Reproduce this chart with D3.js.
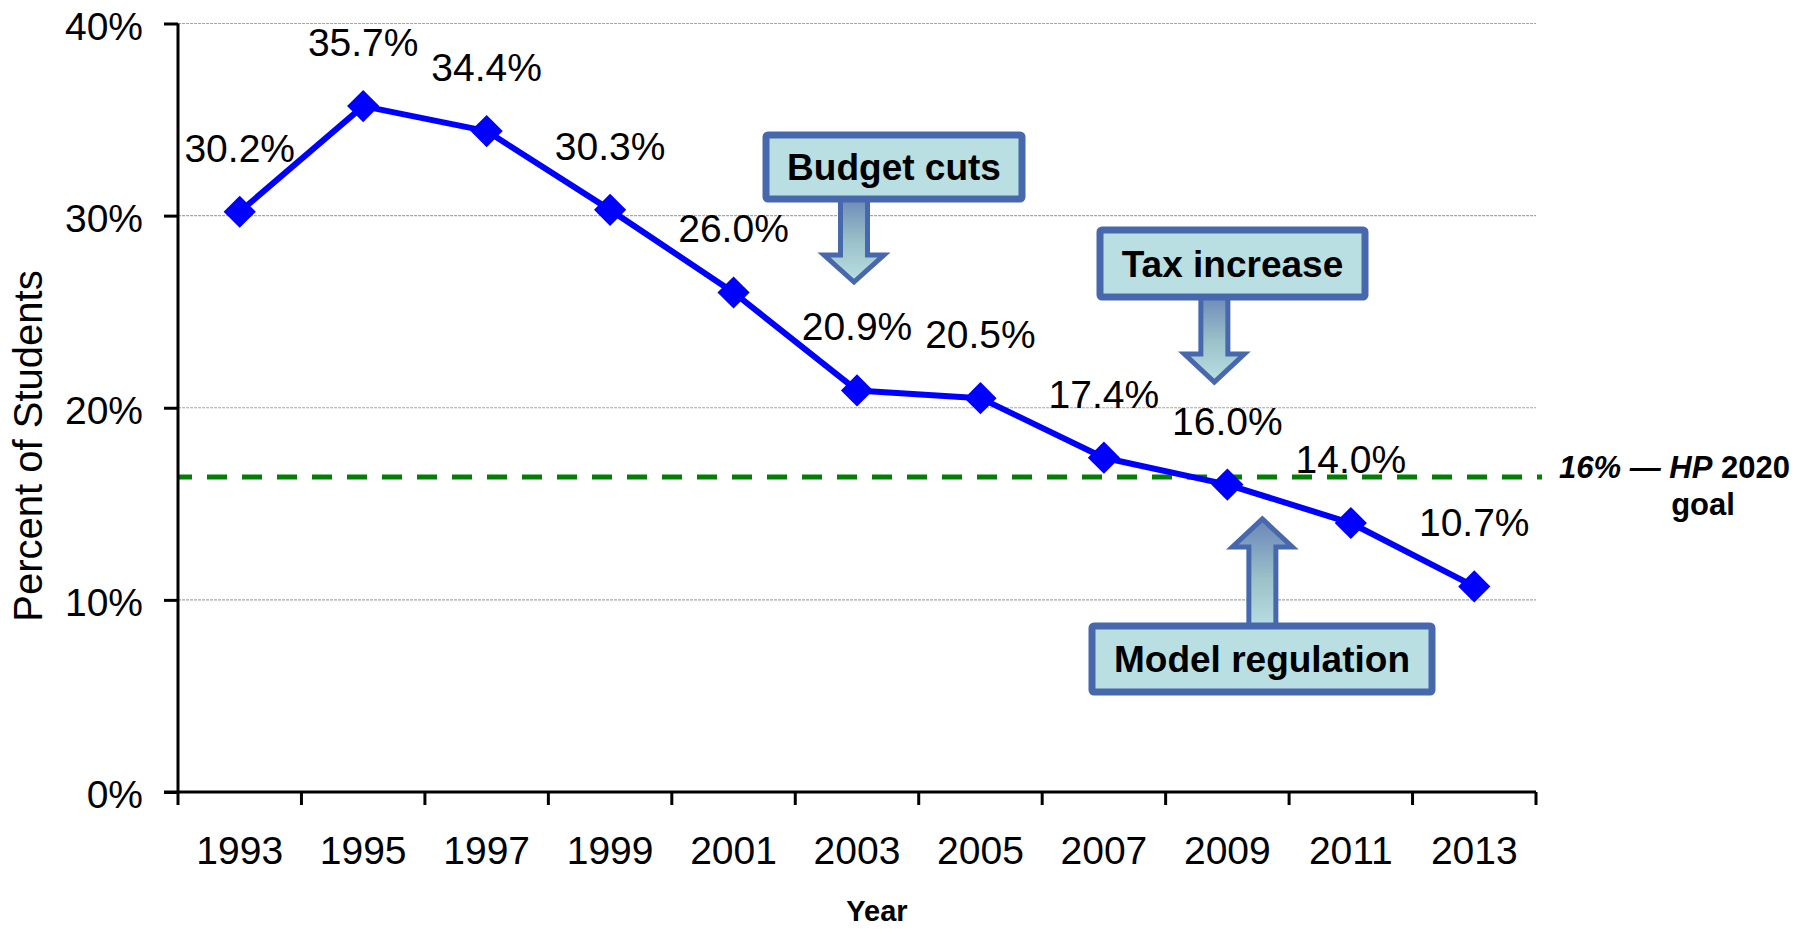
<!DOCTYPE html>
<html>
<head>
<meta charset="utf-8">
<script src="https://cdn.jsdelivr.net/npm/d3@7"></script>
<style>
  html, body { margin: 0; padding: 0; background: #fff; }
  svg { display: block; font-family: "Liberation Sans", Arial, sans-serif; }
</style>
</head>
<body>
<svg id="chart" width="1806" height="929"></svg>
<script>
// ---- Data ----
const years = ["1993","1995","1997","1999","2001","2003","2005","2007","2009","2011","2013"];
const values = [30.2, 35.7, 34.4, 30.3, 26.0, 20.9, 20.5, 17.4, 16.0, 14.0, 10.7];
const valueLabels = ["30.2%","35.7%","34.4%","30.3%","26.0%","20.9%","20.5%","17.4%","16.0%","14.0%","10.7%"];
const yTicks = [0, 10, 20, 30, 40];
const yTickLabels = ["0%","10%","20%","30%","40%"];
const goalValue = 16.4;
const calloutTexts = ["Budget cuts", "Tax increase", "Model regulation"];
const calloutYears = ["2003", "2009", "2009"];

(function () {
// ---- Layout ----
const svg = d3.select("#chart");
const pLeft = 178, pRight = 1536, pTop = 23.5, pBottom = 792;
const x = d3.scaleBand().domain(years).range([pLeft, pRight]);
const y = d3.scaleLinear().domain([0, 40]).range([pBottom, pTop]);
const fontSize = 39;

// gradient for arrows
const defs = svg.append("defs");
const grad = defs.append("linearGradient").attr("id","arrowGrad")
  .attr("x1",0).attr("y1",0).attr("x2",0).attr("y2",1);
grad.append("stop").attr("offset","0%").attr("stop-color","#6a86b8");
grad.append("stop").attr("offset","55%").attr("stop-color","#9cc2c9");
grad.append("stop").attr("offset","100%").attr("stop-color","#b9e0e4");

// gridlines
svg.append("g").selectAll("line").data(yTicks.filter(d => d > 0)).join("line")
  .attr("x1", pLeft).attr("x2", pRight)
  .attr("y1", d => y(d)).attr("y2", d => y(d))
  .attr("stroke", "#a6a6a6").attr("stroke-width", 1.2)
  .attr("stroke-dasharray", "3,1");

// goal line
svg.append("line")
  .attr("x1", pLeft).attr("x2", 1542)
  .attr("y1", y(goalValue)).attr("y2", y(goalValue))
  .attr("stroke", "#008000").attr("stroke-width", 5)
  .attr("stroke-dasharray", "20,15").attr("stroke-dashoffset", 6);

// y axis
const yAxis = d3.axisLeft(y).tickValues(yTicks).tickFormat((d,i) => yTickLabels[i]).tickSize(14).tickPadding(21);
const gy = svg.append("g").attr("transform", `translate(${pLeft},0)`).call(yAxis);
gy.select(".domain").attr("stroke", "#000").attr("stroke-width", 3).attr("d", `M0,${pTop}V${pBottom}`);
gy.selectAll(".tick line").attr("stroke", "#000").attr("stroke-width", 3);
gy.selectAll(".tick text").attr("font-size", fontSize).attr("fill", "#000")
  .attr("font-family", "Liberation Sans, Arial, sans-serif").attr("dy", "0.4em");

// x axis
const xTickPos = d3.range(years.length + 1).map(i => pLeft + i * x.step());
const gx = svg.append("g");
gx.append("line").attr("x1", pLeft - 14).attr("x2", pRight).attr("y1", pBottom).attr("y2", pBottom)
  .attr("stroke", "#000").attr("stroke-width", 3);
gx.selectAll("line.tk").data(xTickPos).join("line").attr("class","tk")
  .attr("x1", d => d).attr("x2", d => d).attr("y1", pBottom).attr("y2", pBottom + 13)
  .attr("stroke", "#000").attr("stroke-width", 3);
gx.selectAll("text").data(years).join("text")
  .attr("x", d => x(d) + x.bandwidth() / 2).attr("y", 864)
  .attr("text-anchor", "middle").attr("font-size", fontSize).attr("fill", "#000")
  .text(d => d);

// axis titles
svg.append("text").attr("transform", "translate(42,446) rotate(-90)")
  .attr("text-anchor", "middle").attr("font-size", 40).attr("fill", "#000")
  .text("Percent of Students");
svg.append("text").attr("x", 877).attr("y", 921).attr("text-anchor", "middle")
  .attr("font-size", 29).attr("font-weight", "bold").attr("fill", "#000").text("Year");

// series line
const cx = d => x(d) + x.bandwidth() / 2;
svg.append("path").datum(values)
  .attr("fill", "none").attr("stroke", "#0000ff").attr("stroke-width", 6).attr("stroke-linejoin", "round")
  .attr("d", d3.line().x((d,i) => cx(years[i])).y(d => y(d)));

// markers
svg.append("g").selectAll("path").data(values).join("path")
  .attr("transform", (d,i) => `translate(${cx(years[i])},${y(d)})`)
  .attr("d", d3.symbol().type(d3.symbolDiamond2).size(660))
  .attr("fill", "#0000ff");

// value labels
svg.append("g").selectAll("text").data(values).join("text")
  .attr("x", (d,i) => cx(years[i])).attr("y", d => y(d) - 50)
  .attr("text-anchor", "middle").attr("font-size", fontSize).attr("fill", "#000")
  .text((d,i) => valueLabels[i]);

// callouts
const boxStroke = "#4868ad", boxFill = "#b9dfe3";
function callout(text, box, a) {
  const g = svg.append("g");
  const hw = 13.5, hh = 30;
  const p = d3.path();
  p.moveTo(a.x - hw, a.y0);
  p.lineTo(a.x - hw, a.yh);
  p.lineTo(a.x - hh, a.yh);
  p.lineTo(a.x, a.yt);
  p.lineTo(a.x + hh, a.yh);
  p.lineTo(a.x + hw, a.yh);
  p.lineTo(a.x + hw, a.y0);
  p.closePath();
  g.append("path").attr("d", p.toString()).attr("fill", "url(#arrowGrad)")
    .attr("stroke", boxStroke).attr("stroke-width", 5).attr("stroke-linejoin", "miter");
  g.append("rect").attr("x", box.x0 + 3).attr("y", box.y0 + 3)
    .attr("width", box.x1 - box.x0 - 6).attr("height", box.y1 - box.y0 - 6)
    .attr("rx", 2).attr("fill", boxFill).attr("stroke", boxStroke).attr("stroke-width", 7);
  g.append("text").attr("x", (box.x0 + box.x1) / 2).attr("y", (box.y0 + box.y1) / 2 + 13)
    .attr("text-anchor", "middle").attr("font-size", 37).attr("font-weight", "bold")
    .attr("fill", "#000").text(text);
}
callout(calloutTexts[0], {x0: 763, y0: 132, x1: 1025, y1: 202},
  {x: cx(calloutYears[0]) - 3, y0: 195, yh: 255, yt: 282});
callout(calloutTexts[1], {x0: 1097, y0: 227, x1: 1368, y1: 300},
  {x: cx(calloutYears[1]) - 13, y0: 293, yh: 354, yt: 382});
callout(calloutTexts[2], {x0: 1089, y0: 623, x1: 1435, y1: 695},
  {x: cx(calloutYears[2]) + 35, y0: 630, yh: 547, yt: 519});

// goal label
const gl = svg.append("text").attr("x", 1790).attr("y", 478).attr("text-anchor", "end")
  .attr("font-size", 31).attr("font-weight", "bold").attr("fill", "#000");
gl.append("tspan").attr("font-style", "italic").text("16% \u2014 HP");
gl.append("tspan").text(" 2020");
svg.append("text").attr("x", 1703).attr("y", 515).attr("text-anchor", "middle")
  .attr("font-size", 31).attr("font-weight", "bold").attr("fill", "#000").text("goal");
})();
</script>
</body>
</html>
